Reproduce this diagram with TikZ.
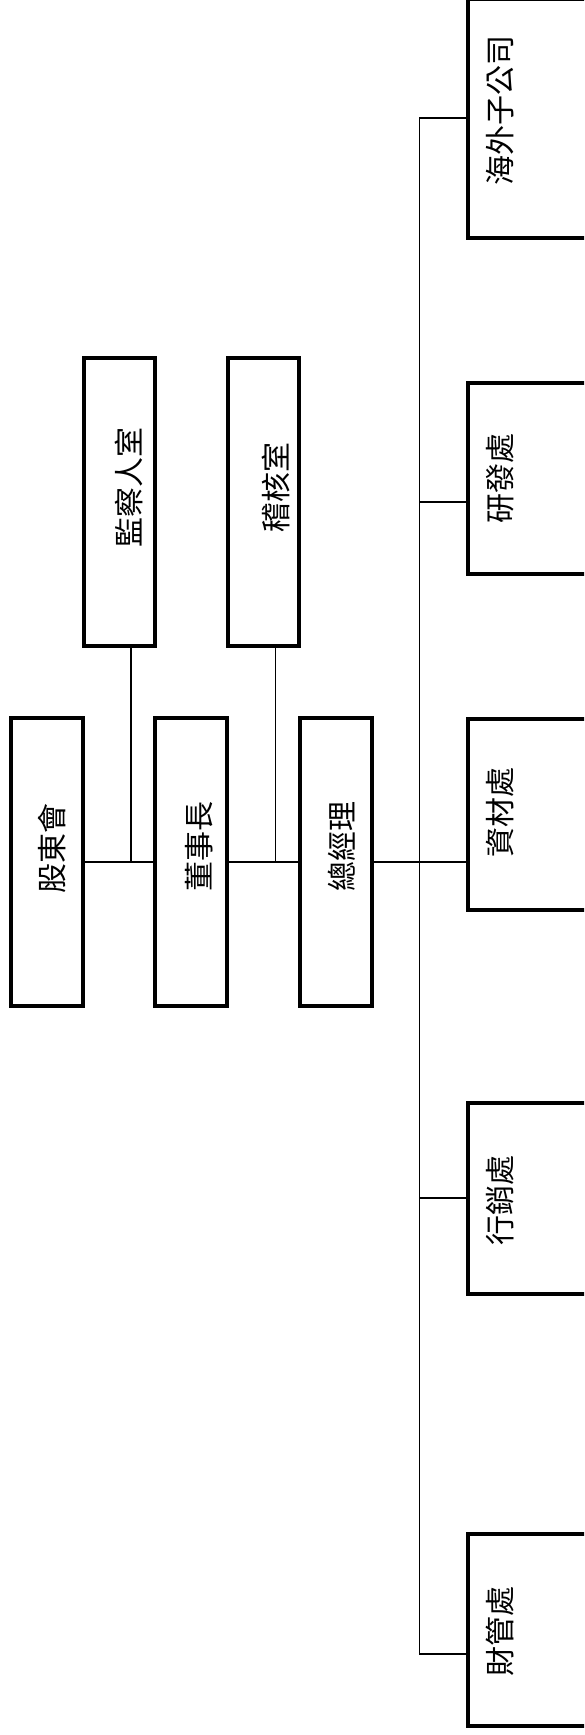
\documentclass[tikz,border=0pt]{standalone}
\usepackage{fontspec}
\newfontfamily\cjk{Noto Sans CJK TC}
\begin{document}
\begin{tikzpicture}[x=1pt,y=-1pt,
  box/.style={draw, line width=4pt, inner sep=0pt, outer sep=0pt, anchor=center},
  lbl/.style={font=\cjk\fontsize{30}{30}\selectfont, rotate=90, inner sep=0pt, anchor=center},
  conn/.style={draw, line width=1.5pt}]
\useasboundingbox (0,0) rectangle (584,1735);
\clip (0,0) rectangle (584,1735);
% middle row
\node[box, minimum width=72pt, minimum height=288pt] (gd) at (47,862) {};
\node[box, minimum width=72pt, minimum height=288pt] (ds) at (191.3,862) {};
\node[box, minimum width=72pt, minimum height=288pt] (zj) at (335.5,862) {};
% top row
\node[box, minimum width=71pt, minimum height=288pt] (jc) at (119.3,502) {};
\node[box, minimum width=71pt, minimum height=288pt] (jh) at (263.5,502) {};
% right column
\node[box, minimum width=182pt, minimum height=239pt] (hw) at (559,118.5) {};
\node[box, minimum width=182pt, minimum height=191pt] (yf) at (559,478.3) {};
\node[box, minimum width=182pt, minimum height=191pt] (zc) at (559,814.3) {};
\node[box, minimum width=182pt, minimum height=191pt] (xx) at (559,1198.5) {};
\node[box, minimum width=182pt, minimum height=192pt] (cg) at (559,1630) {};
% labels
\node[lbl] (tgd) at (52,848) {股東會};
\node[lbl] (tds) at (199,846) {董事長};
\node[lbl] (tzj) at (341.5,846) {總經理};
\node[lbl] (tjc) at (129,487) {監察人室};
\node[lbl] (tjh) at (276,487) {稽核室};
\node[lbl] (thw) at (500,110) {海外子公司};
\node[lbl] (tyf) at (500,478.5) {研發處};
\node[lbl] (tzc) at (500,812.6) {資材處};
\node[lbl] (txx) at (500,1200) {行銷處};
\node[lbl] (tcg) at (500,1631) {財管處};
% junction coordinates
\coordinate (j1) at (131,862);
\coordinate (j2) at (275.3,862);
\coordinate (b0) at (419.7,118);
\coordinate (b1) at (419.7,502);
\coordinate (b2) at (419.7,862);
\coordinate (b3) at (419.7,1198);
\coordinate (b4) at (419.7,1654);
% connectors
\draw[conn] (gd.east) -- (ds.west);
\draw[conn] (ds.east) -- (zj.west);
\draw[conn] (jc.south -| j1) -- (j1);
\draw[conn] (jh.south -| j2) -- (j2);
\draw[conn] (zj.east) -- (zj.east -| zc.west);
\draw[conn] (hw.west |- b0) -- (b0) -- (b4) -- (cg.west |- b4);
\draw[conn] (b1) -- (yf.west |- b1);
\draw[conn] (b3) -- (xx.west |- b3);
\end{tikzpicture}
\end{document}
